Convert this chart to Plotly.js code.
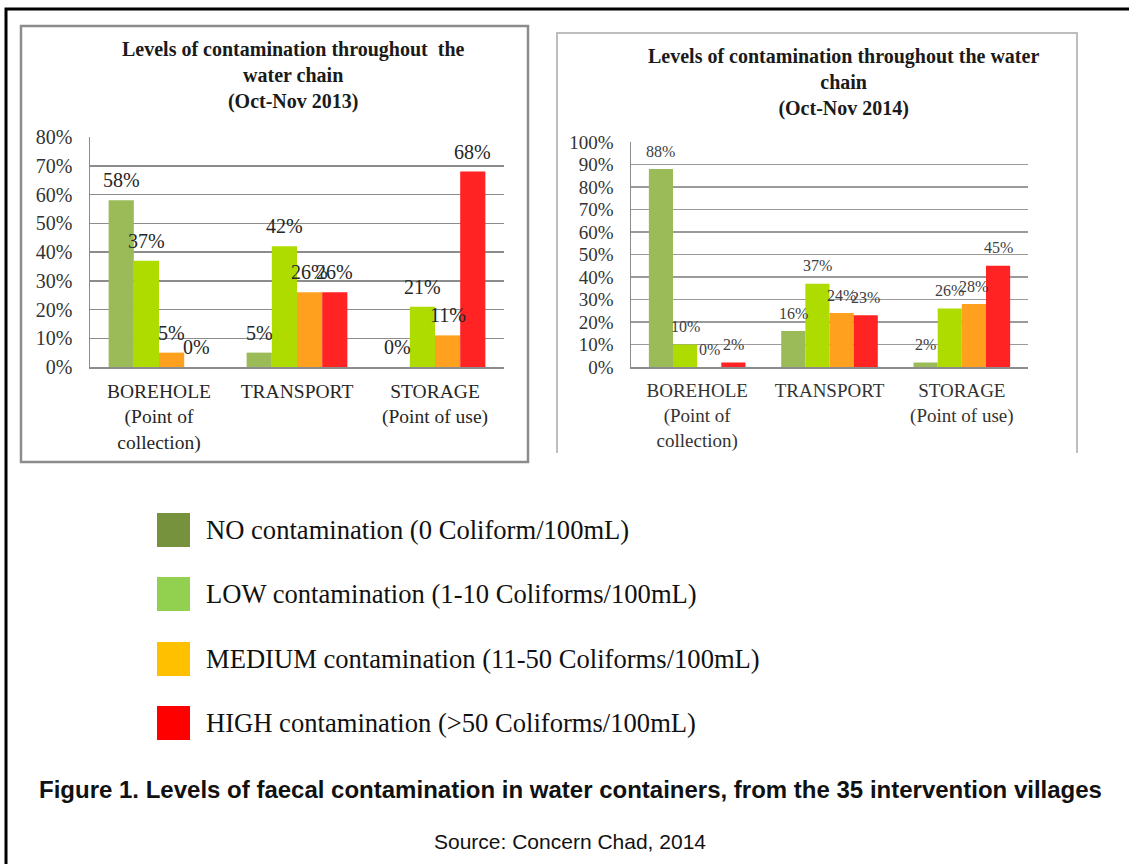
<!DOCTYPE html>
<html>
<head>
<meta charset="utf-8">
<script src="https://cdn.plot.ly/plotly-3.0.1.min.js"></script>
<style>
  html, body { margin: 0; padding: 0; background: #ffffff; }
  #chart { width: 1129px; height: 864px; }
</style>
</head>
<body>
<div id="chart"></div>
<script>
// ---------- DATA ----------
const categories = ['BOREHOLE<br>(Point of<br>collection)', 'TRANSPORT', 'STORAGE<br>(Point of use)'];
const seriesNames = ['NO contamination', 'LOW contamination', 'MEDIUM contamination', 'HIGH contamination'];

const no2013     = [58, 5, 0];
const low2013    = [37, 42, 21];
const medium2013 = [5, 26, 11];
const high2013   = [0, 26, 68];

const no2014     = [88, 16, 2];
const low2014    = [10, 37, 26];
const medium2014 = [0, 24, 28];
const high2014   = [2, 23, 45];

const yTicks2013 = [0, 10, 20, 30, 40, 50, 60, 70, 80];
const yTicks2014 = [0, 10, 20, 30, 40, 50, 60, 70, 80, 90, 100];

const title2013 = 'Levels of contamination throughout  the<br>water chain<br>(Oct-Nov 2013)';
const title2014 = 'Levels of contamination throughout the water<br>chain<br>(Oct-Nov 2014)';

const legendLabels = [
  'NO contamination (0 Coliform/100mL)',
  'LOW contamination (1-10 Coliforms/100mL)',
  'MEDIUM contamination (11-50 Coliforms/100mL)',
  'HIGH contamination (>50 Coliforms/100mL)'
];
const captionText = 'Figure 1. Levels of faecal contamination in water containers, from the 35 intervention villages';
const sourceText = 'Source: Concern Chad, 2014';

// ---------- STYLE ----------
const barColors = ['#9BBB59', '#AEDC00', '#FFA01F', '#FF2323'];
const legendColors = ['#76923C', '#92D050', '#FFC000', '#FF0000'];
const W = 1129, H = 864;
const px = v => v / W;
const py = v => 1 - v / H;
const serif = 'Liberation Serif, Times New Roman, serif';
const sans = 'Liberation Sans, Arial, sans-serif';
const BARGAP = 0.27;

const left = { x0: 90, x1: 504, yTop: 137, yBot: 367 };
const right = { x0: 631, x1: 1028, yTop: 142, yBot: 367 };

const data2013 = [no2013, low2013, medium2013, high2013];
const data2014 = [no2014, low2014, medium2014, high2014];

const traces = [];
data2013.forEach((vals, i) => traces.push({
  type: 'bar', x: categories, y: vals, name: seriesNames[i],
  marker: { color: barColors[i] }, xaxis: 'x', yaxis: 'y', showlegend: false, hoverinfo: 'none'
}));
data2014.forEach((vals, i) => traces.push({
  type: 'bar', x: categories, y: vals, name: seriesNames[i],
  marker: { color: barColors[i] }, xaxis: 'x2', yaxis: 'y2', showlegend: false, hoverinfo: 'none'
}));

const annotations = [];
// value labels
function addLabels(dataSet, xr, yr, area, fontSize, color, yshift) {
  const catW = (area.x1 - area.x0) / categories.length;
  const barW = catW * (1 - BARGAP) / dataSet.length;
  dataSet.forEach((vals, i) => {
    vals.forEach((v, j) => {
      annotations.push({
        x: categories[j], y: v, xref: xr, yref: yr,
        xshift: (i - (dataSet.length - 1) / 2) * barW, yshift: yshift,
        yanchor: 'middle', xanchor: 'center', showarrow: false,
        text: Math.round(v) + '%',
        font: { family: serif, size: fontSize, color: color }
      });
    });
  });
}
addLabels(data2013, 'x', 'y', left, 20, '#262626', 20);
addLabels(data2014, 'x2', 'y2', right, 16, '#404040', 18);

// titles
annotations.push({
  xref: 'paper', yref: 'paper', x: px(293), y: py(75), xanchor: 'center', yanchor: 'middle',
  showarrow: false, text: '<b>' + title2013 + '</b>', align: 'center',
  font: { family: serif, size: 20, color: '#1a1a1a' }
});
annotations.push({
  xref: 'paper', yref: 'paper', x: px(844), y: py(83), xanchor: 'center', yanchor: 'middle',
  showarrow: false, text: '<b>' + title2014 + '</b>', align: 'center',
  font: { family: serif, size: 20, color: '#1a1a1a' }
});

// legend
const legendRowsY = [530, 594, 659, 723];
const shapes = [];
legendLabels.forEach((lab, i) => {
  shapes.push({
    type: 'rect', xref: 'paper', yref: 'paper',
    x0: px(157), x1: px(190), y0: py(legendRowsY[i] - 17), y1: py(legendRowsY[i] + 17),
    fillcolor: legendColors[i], line: { width: 0 }
  });
  annotations.push({
    xref: 'paper', yref: 'paper', x: px(204), y: py(legendRowsY[i]), xanchor: 'left', yanchor: 'middle',
    showarrow: false, text: lab, font: { family: serif, size: 26.6, color: '#111111' }
  });
});

// caption
annotations.push({
  xref: 'paper', yref: 'paper', x: px(570), y: py(789), xanchor: 'center', yanchor: 'middle',
  showarrow: false, text: '<b>' + captionText + '</b>', font: { family: sans, size: 24, color: '#111111' }
});
annotations.push({
  xref: 'paper', yref: 'paper', x: px(570), y: py(841), xanchor: 'center', yanchor: 'middle',
  showarrow: false, text: sourceText, font: { family: sans, size: 21, color: '#111111' }
});

// frames
shapes.push({
  type: 'path', xref: 'paper', yref: 'paper',
  path: `M ${px(6)} ${py(866)} L ${px(6)} ${py(9)} L ${px(1131)} ${py(9)}`,
  line: { color: '#000000', width: 3 }
});
shapes.push({
  type: 'rect', xref: 'paper', yref: 'paper',
  x0: px(21), x1: px(528), y0: py(462), y1: py(26),
  line: { color: '#8c8c8c', width: 2.5 }
});
shapes.push({
  type: 'path', xref: 'paper', yref: 'paper',
  path: `M ${px(557)} ${py(453)} L ${px(557)} ${py(33)} L ${px(1077)} ${py(33)} L ${px(1077)} ${py(453)}`,
  line: { color: '#bdbdbd', width: 2 }
});

const xCommon = {
  type: 'category', showgrid: false, zeroline: false, showline: true, linecolor: '#8c8c8c', linewidth: 1.5,
  ticks: '', ticklabelstandoff: 6, fixedrange: true
};
const yCommon = {
  showgrid: true, gridcolor: '#8c8c8c', gridwidth: 1.5, zeroline: false, showline: true,
  linecolor: '#8c8c8c', linewidth: 1.5, ticks: '', tickmode: 'array', fixedrange: true
};

const layout = {
  width: W, height: H,
  margin: { l: 0, r: 0, t: 0, b: 0, pad: 0 },
  paper_bgcolor: '#ffffff', plot_bgcolor: 'rgba(0,0,0,0)',
  barmode: 'group', bargap: BARGAP, bargroupgap: 0,
  showlegend: false,
  xaxis: Object.assign({}, xCommon, { domain: [px(left.x0), px(left.x1)], anchor: 'y',
    tickfont: { family: serif, size: 19.5, color: '#262626' } }),
  yaxis: Object.assign({}, yCommon, {
    domain: [py(left.yBot), py(left.yTop)], range: [0, 80], anchor: 'x', ticklabelstandoff: 12,
    tickvals: yTicks2013, ticktext: yTicks2013.map(t => t + '%'),
    tickfont: { family: serif, size: 20, color: '#333333' }
  }),
  xaxis2: Object.assign({}, xCommon, { domain: [px(right.x0), px(right.x1)], anchor: 'y2',
    tickfont: { family: serif, size: 19, color: '#333333' } }),
  yaxis2: Object.assign({}, yCommon, {
    domain: [py(right.yBot), py(right.yTop)], range: [0, 100], anchor: 'x2', ticklabelstandoff: 12,
    tickvals: yTicks2014, ticktext: yTicks2014.map(t => t + '%'),
    tickfont: { family: serif, size: 19, color: '#333333' }, gridcolor: '#9a9a9a'
  }),
  annotations: annotations,
  shapes: shapes
};

Plotly.newPlot('chart', traces, layout, { displayModeBar: false, staticPlot: true });
</script>
</body>
</html>
